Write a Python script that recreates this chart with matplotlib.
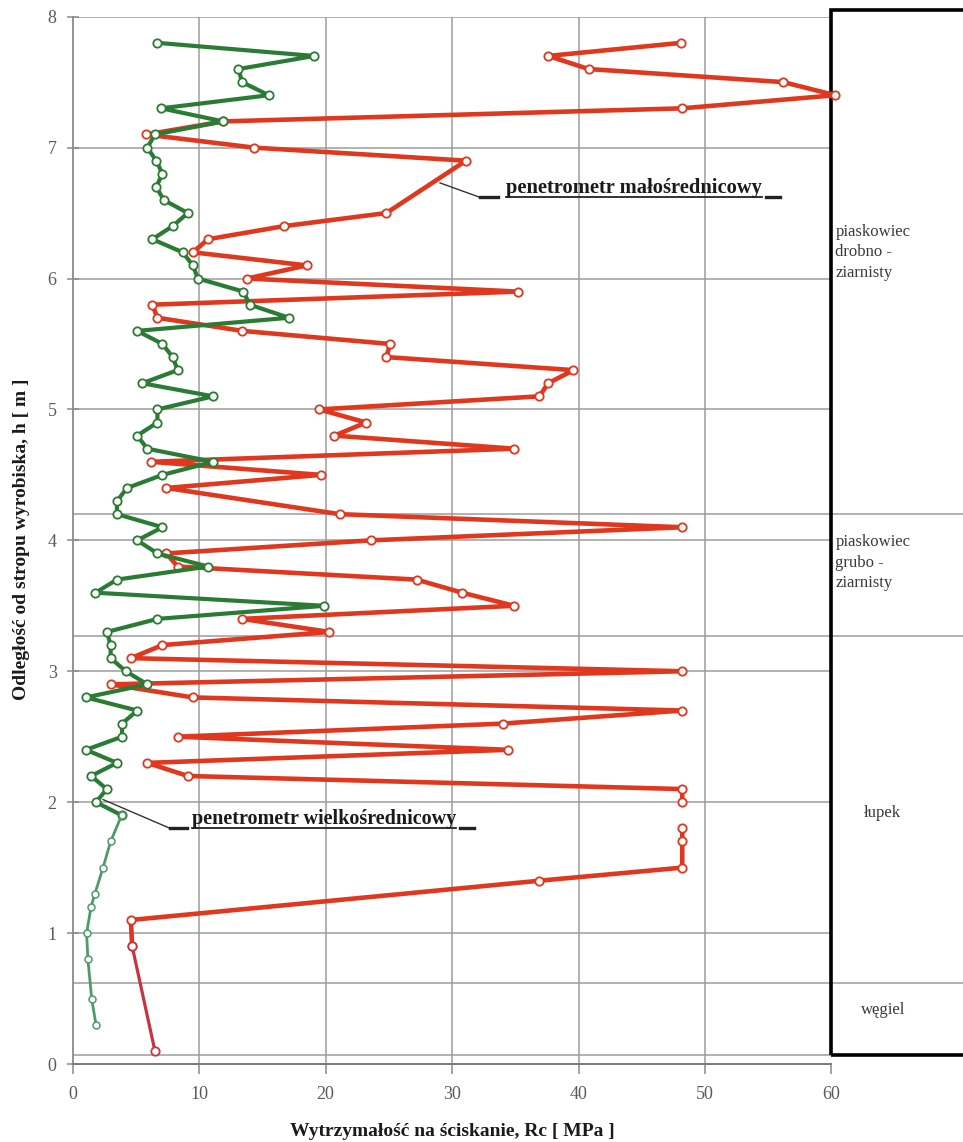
import numpy as np
import matplotlib
matplotlib.use('Agg')
import matplotlib.pyplot as plt
from matplotlib.patches import Rectangle

plt.rcParams['font.family'] = ['Liberation Serif', 'DejaVu Serif']

# ---- data ----
red_depth = [7.8, 7.7, 7.6, 7.5, 7.4, 7.3, 7.2, 7.1, 7.0, 6.9,
             6.5, 6.4, 6.3, 6.2, 6.1, 6.0, 5.9, 5.8, 5.7, 5.6,
             5.5, 5.4, 5.3, 5.2, 5.1, 5.0, 4.9, 4.8, 4.7, 4.6,
             4.5, 4.4, 4.2, 4.1, 4.0, 3.9, 3.8, 3.7, 3.6, 3.5,
             3.4, 3.3, 3.2, 3.1, 3.0, 2.9, 2.8, 2.7, 2.6, 2.5,
             2.4, 2.3, 2.2, 2.1, 2.0, 1.9, 1.8, 1.7, 1.5, 1.4,
             1.1, 0.9, 0.1]
red_rc = [48.1, 37.6, 40.8, 56.2, 60.3, 48.2, 11.9, 5.8, 14.3, 31.1,
          24.8, 16.7, 10.7, 9.5, 18.5, 13.8, 35.2, 6.3, 6.7, 13.4,
          25.1, 24.8, 39.6, 37.6, 36.9, 19.5, 23.2, 20.7, 34.9, 6.2,
          19.6, 7.4, 21.1, 48.2, 23.6, 7.4, 8.3, 27.2, 30.8, 34.9,
          13.4, 20.3, 7.1, 4.6, 48.2, 3.0, 9.5, 48.2, 34.0, 8.3,
          34.4, 5.9, 9.1, 48.2, 48.2, np.nan, 48.2, 48.2, 48.2, 36.9,
          4.6, 4.7, 6.5]

green_depth_upper = [7.8, 7.7, 7.6, 7.5, 7.4, 7.3, 7.2, 7.1, 7.0, 6.9,
                     6.8, 6.7, 6.6, 6.5, 6.4, 6.3, 6.2, 6.1, 6.0, 5.9,
                     5.8, 5.7, 5.6, 5.5, 5.4, 5.3, 5.2, 5.1, 5.0, 4.9,
                     4.8, 4.7, 4.6, 4.5, 4.4, 4.3, 4.2, 4.1, 4.0, 3.9,
                     3.8, 3.7, 3.6, 3.5, 3.4, 3.3, 3.2, 3.1, 3.0, 2.9,
                     2.8, 2.7, 2.6, 2.5, 2.4, 2.3, 2.2, 2.1, 2.0, 1.9]
green_rc_upper = [6.7, 19.1, 13.1, 13.4, 15.5, 7.0, 11.9, 6.5, 5.9, 6.6,
                  7.1, 6.6, 7.2, 9.1, 7.9, 6.3, 8.7, 9.5, 9.9, 13.5,
                  14.0, 17.1, 5.1, 7.1, 7.9, 8.3, 5.5, 11.1, 6.7, 6.7,
                  5.1, 5.9, 11.1, 7.1, 4.3, 3.5, 3.5, 7.1, 5.1, 6.7,
                  10.7, 3.5, 1.8, 19.9, 6.7, 2.7, 3.0, 3.0, 4.2, 5.9,
                  1.05, 5.1, 3.9, 3.9, 1.05, 3.5, 1.45, 2.7, 1.84, 3.87]

green_depth_lower = [1.9, 1.7, 1.5, 1.3, 1.2, 1.0, 0.8, 0.5, 0.3]
green_rc_lower = [3.87, 3.0, 2.4, 1.75, 1.45, 1.1, 1.2, 1.5, 1.84]

x_ticks = [0, 10, 20, 30, 40, 50, 60]
y_ticks = [0, 1, 2, 3, 4, 5, 6, 7, 8]
layer_bounds = [4.2, 3.27, 0.62]
layer_names = ['piaskowiec\ndrobno -\nziarnisty', 'piaskowiec\ngrubo -\nziarnisty',
               'łupek', 'węgiel']
layer_label_depths = [6.2, 3.83, 1.92, 0.41]

RED = '#e0371f'
RED_DARK = '#c93444'
GREEN = '#2a7b33'
GREEN_LIGHT = '#4f9a6c'
GRID = '#9c9c9c'

fig = plt.figure(figsize=(9.63, 11.42), dpi=100)
ax = fig.add_axes([0.0755, 0.0683, 0.9245, 0.9171])
ax.set_xlim(0, 70.4)
ax.set_ylim(0, 8)
ax.set_facecolor('white')

# grid
ax.hlines(y_ticks[1:], 0, 60, color=GRID, lw=1.1, zorder=1)
ax.vlines(x_ticks[1:-1], 0, 8, color=GRID, lw=1.1, zorder=1)
ax.hlines(layer_bounds, 0, 70.4, color=GRID, lw=1.1, zorder=1)
ax.hlines([0.07], 0, 60, color=GRID, lw=1.1, zorder=1)

for s in ['top', 'right']:
    ax.spines[s].set_visible(False)
ax.spines['left'].set_color('#8a8a8a')
ax.spines['left'].set_linewidth(1.3)
ax.spines['left'].set_bounds(0, 8)
ax.spines['bottom'].set_color('#7a7a7a')
ax.spines['bottom'].set_linewidth(1.4)
ax.spines['bottom'].set_bounds(0, 60)

ax.set_xticks(x_ticks)
ax.set_yticks(y_ticks)
ax.tick_params(axis='x', direction='out', length=7, width=1.1, color='#8a8a8a',
               labelsize=13, labelcolor='#5a5a5a', pad=9)
ax.tick_params(axis='y', direction='inout', length=9, width=1.1, color='#8a8a8a',
               labelsize=13, labelcolor='#5a5a5a', pad=7)

# lithology box
box = Rectangle((60, 0.07), 15, 8.05 - 0.07, facecolor='none', edgecolor='black',
                lw=2.6, zorder=3, clip_on=False)
ax.add_patch(box)
for name, d in zip(layer_names, layer_label_depths):
    if '\n' in name:
        ax.text(60.3, d, name, ha='left', va='center', fontsize=12,
                color='#3a3a3a', linespacing=1.4, zorder=4)
    else:
        ax.text(64.05, d, name, ha='center', va='center', fontsize=12,
                color='#3a3a3a', zorder=4)

# red series (small-diameter penetrometer)
mk = dict(marker='o', ms=6, mfc='white', mew=1.3)
ax.plot(red_rc[:-1], red_depth[:-1], color=RED, lw=3.3, mec=RED, zorder=5,
        solid_joinstyle='round', **mk)
ax.plot(red_rc[-2:], red_depth[-2:], color=RED_DARK, lw=2.3, mec=RED_DARK, zorder=5, **mk)

# green series (large-diameter penetrometer)
ax.plot(green_rc_upper, green_depth_upper, color=GREEN, lw=3.0, mec=GREEN, zorder=6,
        solid_joinstyle='round', **mk)
ax.plot(green_rc_lower, green_depth_lower, color=GREEN_LIGHT, lw=2.0, zorder=6,
        marker='o', ms=5, mfc='white', mec=GREEN_LIGHT, mew=1.1)

# annotations
ax.plot([29.05, 32.2], [6.73, 6.62], color='#333333', lw=1.0, zorder=7)
ax.plot([32.2, 33.6], [6.62, 6.62], color='#222222', lw=2.4, zorder=7)
t1 = ax.text(34.3, 6.655, 'penetrometr małośrednicowy', fontsize=14.8, fontweight='bold',
             ha='left', va='baseline', color='#1a1a1a', zorder=7)
ax.plot([2.4, 7.7], [2.02, 1.80], color='#333333', lw=1.0, zorder=7)
ax.plot([7.7, 9.0], [1.80, 1.80], color='#222222', lw=2.4, zorder=7)
t2 = ax.text(9.4, 1.83, 'penetrometr wielkośrednicowy', fontsize=14.5, fontweight='bold',
             ha='left', va='baseline', color='#1a1a1a', zorder=7)

fig.canvas.draw()
r = fig.canvas.get_renderer()
inv = ax.transData.inverted()
for t, uh in [(t1, 6.62), (t2, 1.80)]:
    bb = t.get_window_extent(r)
    x0 = inv.transform((bb.x0, 0))[0]
    x1 = inv.transform((bb.x1, 0))[0]
    ax.plot([x0, x1], [uh, uh], color='#222222', lw=1.3, zorder=7)
    ax.plot([x1 + 0.3, x1 + 1.4], [uh, uh], color='#222222', lw=2.4, zorder=7)

fig.text(452 / 963, 1 - 1131 / 1142, 'Wytrzymałość na ściskanie, Rc [ MPa ]',
         ha='center', va='center', fontsize=14, fontweight='bold', color='#1a1a1a')
fig.text(22 / 963, 1 - 539 / 1142, 'Odległość od stropu wyrobiska, h [ m ]',
         ha='center', va='center', rotation=90, fontsize=14, fontweight='bold',
         color='#1a1a1a')

fig.savefig('out.png', dpi=100, facecolor='white')
